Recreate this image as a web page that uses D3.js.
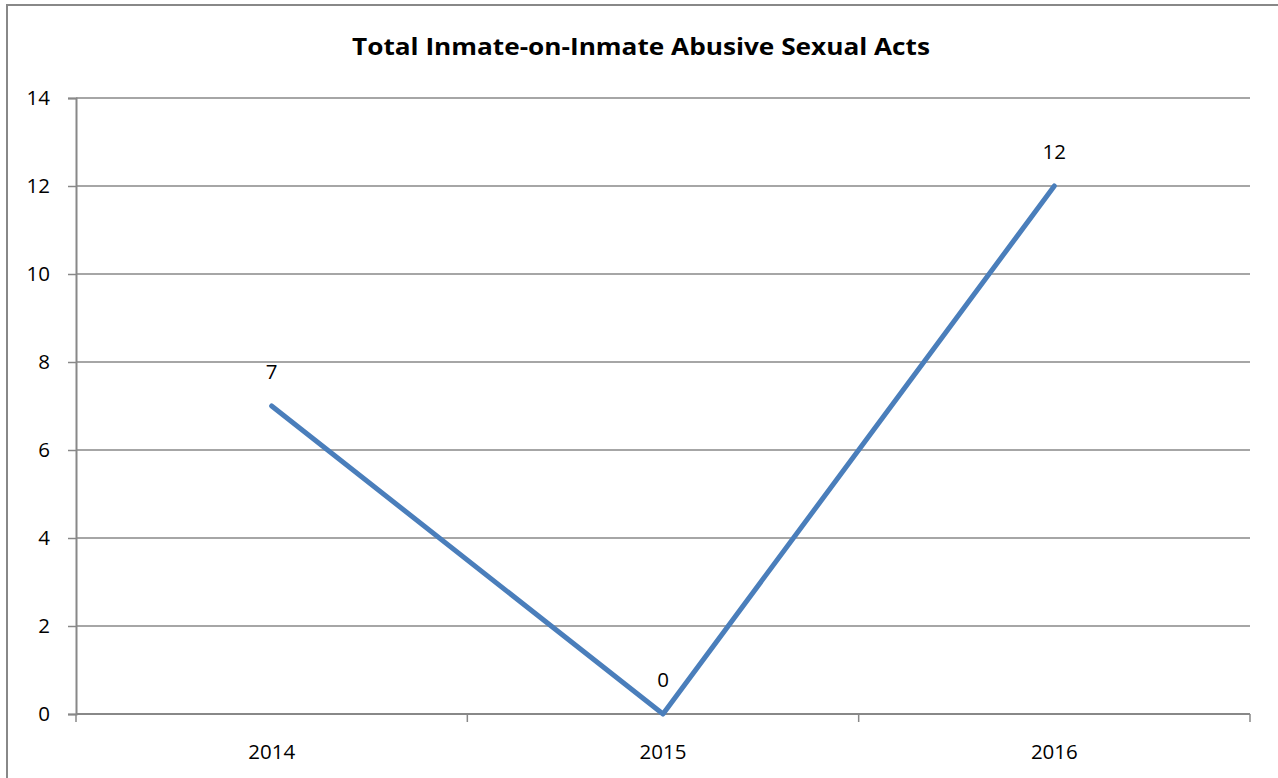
<!DOCTYPE html>
<html>
<head>
<meta charset="utf-8">
<script src="https://cdn.jsdelivr.net/npm/d3@7"></script>
<style>
  html, body { margin: 0; padding: 0; background: #fff; }
  svg { display: block; }
</style>
</head>
<body>
<svg id="chart" width="1278" height="778"></svg>
<script>
// Chart data
const title = "Total Inmate-on-Inmate Abusive Sexual Acts";
const years = ["2014", "2015", "2016"];
const acts = [7, 0, 12];
const yTicks = [0, 2, 4, 6, 8, 10, 12, 14];

const W = 1278, H = 778;
const margin = { left: 76, right: 28, top: 98, bottom: 64 };
const font = "'Open Sans', Lato, sans-serif";
const gridColor = "#888888";

const svg = d3.select("#chart");

// Outer frame (extends past the right and bottom edges)
svg.append("rect")
  .attr("x", 7).attr("y", 5)
  .attr("width", W).attr("height", H)
  .attr("fill", "#fff")
  .attr("stroke", gridColor).attr("stroke-width", 2);

const x = d3.scaleBand()
  .domain(years)
  .range([margin.left, W - margin.right])
  .paddingInner(0).paddingOuter(0);

const y = d3.scaleLinear()
  .domain([0, 14])
  .range([H - margin.bottom, margin.top]);

// Title
svg.append("text")
  .attr("x", 641).attr("y", 55)
  .attr("text-anchor", "middle")
  .attr("font-family", font)
  .attr("font-weight", "bold")
  .attr("font-size", 24)
  .attr("textLength", 578)
  .attr("lengthAdjust", "spacingAndGlyphs")
  .attr("fill", "#000")
  .text(title);

// Horizontal gridlines
svg.append("g")
  .selectAll("line")
  .data(yTicks.filter(d => d > 0))
  .join("line")
  .attr("x1", margin.left).attr("x2", W - margin.right)
  .attr("y1", d => y(d)).attr("y2", d => y(d))
  .attr("stroke", gridColor).attr("stroke-width", 1.5);

// Y axis
const yAxis = svg.append("g")
  .attr("transform", `translate(${margin.left},0)`)
  .call(d3.axisLeft(y).tickValues(yTicks).tickSize(8).tickPadding(18).tickFormat(d3.format("d")));
yAxis.select(".domain").attr("stroke", gridColor).attr("stroke-width", 2);
yAxis.selectAll(".tick line").attr("stroke", gridColor).attr("stroke-width", 1.5);
yAxis.selectAll(".tick text")
  .attr("font-family", font).attr("font-size", 20.5).attr("fill", "#000");

// X axis: ticks sit on the category boundaries
const xAxisG = svg.append("g")
  .attr("transform", `translate(0,${y(0)})`);
xAxisG.append("line")
  .attr("x1", margin.left).attr("x2", W - margin.right)
  .attr("y1", 0).attr("y2", 0)
  .attr("stroke", gridColor).attr("stroke-width", 2);
const boundaries = years.map(d => x(d)).concat([x(years[years.length - 1]) + x.bandwidth()]);
xAxisG.selectAll("line.tick")
  .data(boundaries)
  .join("line")
  .attr("class", "tick")
  .attr("x1", d => d).attr("x2", d => d)
  .attr("y1", 0).attr("y2", 8)
  .attr("stroke", gridColor).attr("stroke-width", 1.5);
xAxisG.selectAll("text")
  .data(years)
  .join("text")
  .attr("x", d => x(d) + x.bandwidth() / 2)
  .attr("y", 45)
  .attr("text-anchor", "middle")
  .attr("font-family", font).attr("font-size", 20.5).attr("fill", "#000")
  .text(d => d);

// Series line
const pts = years.map((d, i) => ({ year: d, value: acts[i] }));
const line = d3.line()
  .x(d => x(d.year) + x.bandwidth() / 2)
  .y(d => y(d.value));

svg.append("path")
  .datum(pts)
  .attr("d", line)
  .attr("fill", "none")
  .attr("stroke", "#4A7EBB")
  .attr("stroke-width", 5)
  .attr("stroke-linejoin", "round")
  .attr("stroke-linecap", "round");

// Data labels
svg.append("g")
  .selectAll("text")
  .data(pts)
  .join("text")
  .attr("x", d => x(d.year) + x.bandwidth() / 2)
  .attr("y", d => y(d.value) - 27)
  .attr("text-anchor", "middle")
  .attr("font-family", font).attr("font-size", 20.5).attr("fill", "#000")
  .text(d => d.value);
</script>
</body>
</html>
